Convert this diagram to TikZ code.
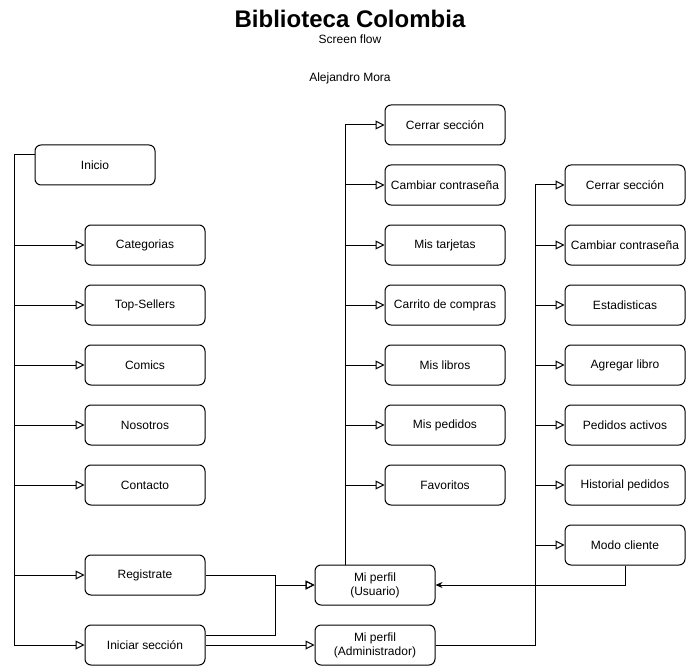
\documentclass[tikz,border=0pt]{standalone}
\usepackage{fontspec}
\setmainfont{Liberation Sans}
\usetikzlibrary{positioning, arrows.meta, calc}

\begin{document}
\begin{tikzpicture}[
    x=1pt, y=-1pt,
    line width=1pt,
    screen/.style={draw, rectangle, rounded corners=6pt, minimum width=120pt, minimum height=40pt, align=center, fill=white, font=\fontsize{12}{14}\selectfont, inner sep=2pt},
    flow/.style={-{Triangle[open, length=9pt, width=9pt]}},
    back/.style={-{Stealth[length=7pt, width=6pt]}},
    title_style/.style={font=\fontsize{24}{28}\selectfont\bfseries}
]
    \useasboundingbox (0,0) rectangle (690,671);

    % ================= TITLE =================
    \node[title_style] (T) at (350, 19) {Biblioteca Colombia};
    \node[font=\fontsize{12}{14}\selectfont] (S) at (350, 39) {Screen flow};
    \node[font=\fontsize{12}{14}\selectfont] (AU) at (350, 78) {Alejandro Mora};

    % ================= PUBLIC SCREENS =================
    \node[screen] (INI) at (95, 165) {Inicio};
    \node[screen] (CAT) at (145, 245) {Categorias};
    \node[screen] (TOP) at (145, 305) {Top-Sellers};
    \node[screen] (COM) at (145, 365) {Comics};
    \node[screen] (NOS) at (145, 425) {Nosotros};
    \node[screen] (CON) at (145, 485) {Contacto};
    \node[screen] (REG) at (145, 575) {Registrate};
    \node[screen] (LOG) at (145, 645) {Iniciar sección};

    \foreach \n in {CAT, TOP, COM, NOS, CON, REG, LOG}
        \draw[flow] ([yshift=10pt]INI.west) -- ++(-20,0) |- (\n.west);

    % ================= PROFILES =================
    \node[screen] (PU) at (375, 585) {Mi perfil\\(Usuario)};
    \node[screen] (PA) at (375, 645) {Mi perfil\\(Administrador)};

    \draw[flow] (REG.east) -- ++(70,0) |- (PU.west);
    \draw[flow] ([yshift=10pt]LOG.east) -- ++(70,0) |- (PU.west);
    \draw[flow] (LOG.east) -- (PA.west);

    % ================= USER SCREENS =================
    \node[screen] (U1) at (445, 125) {Cerrar sección};
    \node[screen] (U2) at (445, 185) {Cambiar contraseña};
    \node[screen] (U3) at (445, 245) {Mis tarjetas};
    \node[screen] (U4) at (445, 305) {Carrito de compras};
    \node[screen] (U5) at (445, 365) {Mis libros};
    \node[screen] (U6) at (445, 425) {Mis pedidos};
    \node[screen] (U7) at (445, 485) {Favoritos};

    \foreach \n in {U1, U2, U3, U4, U5, U6, U7}
        \draw[flow] ([xshift=-30pt]PU.north) |- (\n.west);

    % ================= ADMIN SCREENS =================
    \node[screen] (A1) at (625, 185) {Cerrar sección};
    \node[screen] (A2) at (625, 245) {Cambiar contraseña};
    \node[screen] (A3) at (625, 305) {Estadisticas};
    \node[screen] (A4) at (625, 365) {Agregar libro};
    \node[screen] (A5) at (625, 425) {Pedidos activos};
    \node[screen] (A6) at (625, 485) {Historial pedidos};
    \node[screen] (A7) at (625, 545) {Modo cliente};

    \foreach \n in {A1, A2, A3, A4, A5, A6, A7}
        \draw[flow] (PA.east) -- ++(100,0) |- (\n.west);

    % back to user mode
    \draw[back] (A7.south) |- (PU.east);

\end{tikzpicture}
\end{document}
